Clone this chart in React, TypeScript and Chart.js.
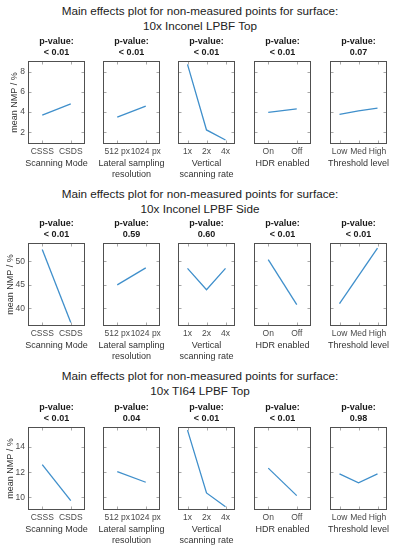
import React, { useEffect, useRef } from 'react';
import { Chart, registerables } from 'chart.js';

Chart.register(...registerables);

// ---------- data ----------
const mainTitle = 'Main effects plot for non-measured points for surface:';
const surfaces = ['10x Inconel LPBF Top', '10x Inconel LPBF Side', '10x TI64 LPBF Top'];

const scanModeLevels = ['CSSS', 'CSDS'];
const lateralLevels = ['512 px', '1024 px'];
const verticalLevels = ['1x', '2x', '4x'];
const hdrLevels = ['On', 'Off'];
const thresholdLevels = ['Low', 'Med', 'High'];
const factorLevels = [scanModeLevels, lateralLevels, verticalLevels, hdrLevels, thresholdLevels];

const factorLabels = [
  ['Scanning Mode', ''],
  ['Lateral sampling', 'resolution'],
  ['Vertical', 'scanning rate'],
  ['HDR enabled', ''],
  ['Threshold level', ''],
];

const yAxisLabel = 'mean NMP / %';

// Row 1: 10x Inconel LPBF Top
const topInconelScan = [3.71, 4.82];
const topInconelLateral = [3.51, 4.6];
const topInconelVertical = [8.72, 2.24, 1.25];
const topInconelHdr = [3.97, 4.33];
const topInconelThreshold = [3.77, 4.13, 4.4];
const topInconelP = ['< 0.01', '< 0.01', '< 0.01', '< 0.01', '0.07'];
const topInconelYLim = [0.85, 9.05];
const topInconelYTicks = [2, 4, 6, 8];

// Row 2: 10x Inconel LPBF Side
const sideInconelScan = [52.5, 37.0];
const sideInconelLateral = [45.0, 48.6];
const sideInconelVertical = [48.5, 43.96, 48.5];
const sideInconelHdr = [50.35, 40.8];
const sideInconelThreshold = [41.0, 46.9, 52.8];
const sideInconelP = ['< 0.01', '0.59', '0.60', '< 0.01', '< 0.01'];
const sideInconelYLim = [36.25, 53.9];
const sideInconelYTicks = [40, 45, 50];

// Row 3: 10x TI64 LPBF Top
const topTi64Scan = [12.59, 9.74];
const topTi64Lateral = [12.05, 11.2];
const topTi64Vertical = [15.33, 10.35, 9.26];
const topTi64Hdr = [12.32, 10.14];
const topTi64Threshold = [11.87, 11.15, 11.87];
const topTi64P = ['< 0.01', '0.04', '< 0.01', '< 0.01', '0.98'];
const topTi64YLim = [9.0, 15.58];
const topTi64YTicks = [10, 12, 14];

const rowValues = [
  [topInconelScan, topInconelLateral, topInconelVertical, topInconelHdr, topInconelThreshold],
  [sideInconelScan, sideInconelLateral, sideInconelVertical, sideInconelHdr, sideInconelThreshold],
  [topTi64Scan, topTi64Lateral, topTi64Vertical, topTi64Hdr, topTi64Threshold],
];
const rowP = [topInconelP, sideInconelP, topTi64P];
const rowYLim = [topInconelYLim, sideInconelYLim, topTi64YLim];
const rowYTicks = [topInconelYTicks, sideInconelYTicks, topTi64YTicks];

// ---------- layout / style ----------
const FONT = "'Liberation Sans', Arial, Helvetica, sans-serif";
const LINE_COLOR = '#3f8fcb';
const BOX_COLOR = '#505050';
const TICK_COLOR = '#a8a8a8';
const TEXT_COLOR = '#333333';
const TICK_TEXT = '#4a4a4a';

const BOX_LEFTS = [28, 103, 178, 254, 330];
const BOX_TOPS = [61, 243, 427];
const TITLE_TOPS = [2.5, 185.5, 367.5];
const Y_TITLE_PAD = [9.5, 5, 5];
const SIDE = 28;
const BOX_W = 57;
const CANVAS_W = SIDE * 2 + BOX_W;
const TITLE_H = 25;
const CANVAS_H = 144;

const boxPlugin = {
  id: 'matlabBox',
  afterDatasetsDraw(chart: any) {
    const { ctx, chartArea: a, scales } = chart;
    const x = scales.x;
    const y = scales.y;
    ctx.save();
    ctx.lineWidth = 1;
    ctx.strokeStyle = TICK_COLOR;
    ctx.beginPath();
    y.ticks.forEach((t: any) => {
      const p = Math.round(y.getPixelForValue(t.value)) + 0.5;
      ctx.moveTo(a.left, p);
      ctx.lineTo(a.left + 3.5, p);
      ctx.moveTo(a.right, p);
      ctx.lineTo(a.right - 3.5, p);
    });
    x.ticks.forEach((_t: any, i: number) => {
      const p = Math.round(x.getPixelForTick(i)) + 0.5;
      ctx.moveTo(p, a.bottom);
      ctx.lineTo(p, a.bottom - 3.5);
      ctx.moveTo(p, a.top);
      ctx.lineTo(p, a.top + 3.5);
    });
    ctx.stroke();
    ctx.strokeStyle = BOX_COLOR;
    ctx.strokeRect(
      Math.round(a.left) + 0.5,
      Math.round(a.top) + 0.5,
      Math.round(a.right - a.left) - 1,
      Math.round(a.bottom - a.top) - 1
    );
    ctx.restore();
  },
};

type PanelProps = {
  left: number;
  top: number;
  labels: string[];
  values: number[];
  pValue: string;
  axisLabel: string[];
  yLim: number[];
  yTicks: number[];
  showY: boolean;
  yTitlePad: number;
};

function Panel(props: PanelProps) {
  const ref = useRef<HTMLCanvasElement | null>(null);
  useEffect(() => {
    if (!ref.current) return;
    const { labels, values, pValue, axisLabel, yLim, yTicks, showY, yTitlePad } = props;
    const font9 = { family: FONT, size: 9, lineHeight: 11 / 9 };
    const tickFont = { family: FONT, size: 8.5, lineHeight: 11 / 8.5 };
    const chart = new Chart(ref.current, {
      type: 'line',
      data: {
        labels,
        datasets: [
          {
            data: values,
            borderColor: LINE_COLOR,
            borderWidth: 1.3,
            pointRadius: 0,
            pointHoverRadius: 0,
            fill: false,
            tension: 0,
          },
        ],
      },
      options: {
        animation: false,
        responsive: false,
        events: [],
        layout: { padding: 0 },
        plugins: {
          legend: { display: false },
          tooltip: { enabled: false },
          title: {
            display: true,
            text: ['p-value:', pValue],
            font: { family: FONT, size: 9, weight: 'bold', lineHeight: 11 / 9 },
            color: '#1a1a1a',
            padding: { top: 0, bottom: 3 },
            fullSize: true,
          },
          subtitle: {
            display: true,
            position: 'bottom',
            text: axisLabel,
            font: font9,
            color: TEXT_COLOR,
            padding: 0,
            fullSize: true,
          },
        },
        scales: {
          x: {
            type: 'category',
            offset: true,
            grid: { display: false, drawTicks: false },
            border: { display: false },
            ticks: {
              font: tickFont,
              color: TICK_TEXT,
              padding: 2.5,
              maxRotation: 0,
              minRotation: 0,
              autoSkip: false,
            },
            afterFit: (s: any) => {
              s.height = 14;
            },
          },
          y: {
            type: 'linear',
            position: 'left',
            min: yLim[0],
            max: yLim[1],
            afterBuildTicks: (s: any) => {
              s.ticks = yTicks.map((v) => ({ value: v }));
            },
            grid: { display: false, drawTicks: false },
            border: { display: false },
            ticks: { display: showY, font: tickFont, color: TICK_TEXT, padding: 3 },
            title: {
              display: showY,
              text: yAxisLabel,
              font: font9,
              color: TEXT_COLOR,
              padding: { top: yTitlePad, bottom: 0 },
            },
            afterFit: (s: any) => {
              s.width = SIDE;
            },
          },
          y2: {
            type: 'linear',
            position: 'right',
            display: true,
            min: yLim[0],
            max: yLim[1],
            grid: { display: false, drawTicks: false },
            border: { display: false },
            ticks: { display: false },
            afterFit: (s: any) => {
              s.width = SIDE;
            },
          },
        },
      } as any,
      plugins: [boxPlugin],
    });
    return () => chart.destroy();
  }, []);
  return (
    <canvas
      ref={ref}
      width={CANVAS_W}
      height={CANVAS_H}
      style={{
        position: 'absolute',
        left: props.left,
        top: props.top,
        width: CANVAS_W,
        height: CANVAS_H,
      }}
    />
  );
}

export default function App() {
  const panels: React.ReactNode[] = [];
  rowValues.forEach((row, r) => {
    row.forEach((vals, c) => {
      panels.push(
        <Panel
          key={`${r}-${c}`}
          left={BOX_LEFTS[c] - SIDE}
          top={BOX_TOPS[r] - TITLE_H}
          labels={factorLevels[c]}
          values={vals}
          pValue={rowP[r][c]}
          axisLabel={factorLabels[c]}
          yLim={rowYLim[r]}
          yTicks={rowYTicks[r]}
          showY={c === 0}
          yTitlePad={Y_TITLE_PAD[r]}
        />
      );
    });
  });
  return (
    <div
      style={{
        position: 'absolute',
        left: 0,
        top: 0,
        width: 394,
        height: 550,
        overflow: 'hidden',
        background: '#ffffff',
      }}
    >
      {surfaces.map((s, r) => (
        <div
          key={s}
          style={{
            position: 'absolute',
            left: 0,
            top: TITLE_TOPS[r],
            width: 400,
            textAlign: 'center',
            fontFamily: FONT,
            fontSize: 11.7,
            lineHeight: '15px',
            color: '#222222',
            whiteSpace: 'nowrap',
          }}
        >
          <div>{mainTitle}</div>
          <div>{s}</div>
        </div>
      ))}
      {panels}
    </div>
  );
}
